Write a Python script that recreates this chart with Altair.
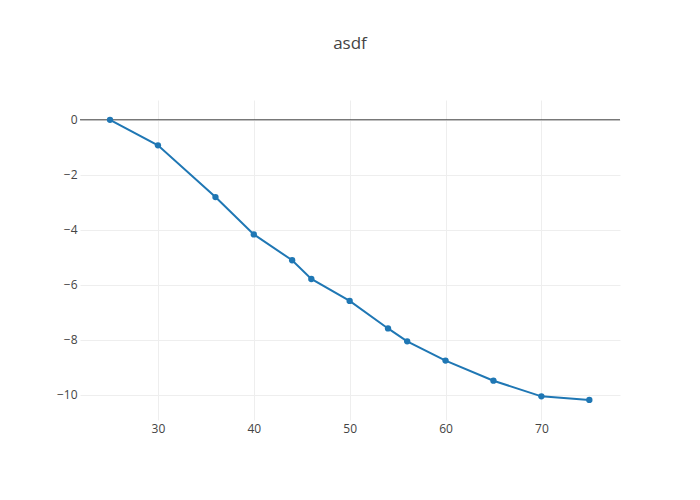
import altair as alt
import pandas as pd

xs = [25, 30, 36, 40, 44, 46, 50, 54, 56, 60, 65, 70, 75]
ys = [0.0, -0.93, -2.81, -4.17, -5.11, -5.79, -6.59, -7.59, -8.06, -8.76, -9.49, -10.06, -10.19]
x_ticks = [30, 40, 50, 60, 70]
y_ticks = [0, -2, -4, -6, -8, -10]

df = pd.DataFrame({"x": xs, "y": ys})

FONT = "Open Sans"
xscale = alt.Scale(domain=[21.87, 78.2], nice=False, zero=False)
yscale = alt.Scale(domain=[-10.92, 0.72], nice=False, zero=False)

xaxis = alt.Axis(values=x_ticks, title=None, domain=False, ticks=False, grid=True,
                 gridColor="#eeeeee", gridWidth=1, labelFont=FONT, labelFontSize=12,
                 labelColor="#444444", labelPadding=3)
yaxis = alt.Axis(values=y_ticks, title=None, domain=False, ticks=False, grid=True,
                 gridColor="#eeeeee", gridWidth=1, labelFont=FONT, labelFontSize=12,
                 labelColor="#444444", labelPadding=3)

base = alt.Chart(df)
line = base.mark_line(color="#1f77b4", strokeWidth=2).encode(
    x=alt.X("x:Q", scale=xscale, axis=xaxis),
    y=alt.Y("y:Q", scale=yscale, axis=yaxis),
)
pts = base.mark_point(filled=True, color="#1f77b4", size=40, opacity=1).encode(
    x=alt.X("x:Q", scale=xscale),
    y=alt.Y("y:Q", scale=yscale),
)
zero = alt.Chart(pd.DataFrame({"z": [0]})).mark_rule(color="#444444", strokeWidth=1).encode(
    y=alt.Y("z:Q", scale=yscale)
)

chart = alt.layer(zero, line, pts).properties(
    width=540, height=320,
    background="white",
    title=alt.TitleParams(text="asdf", font=FONT, fontSize=17, color="#444444",
                          fontWeight="normal", anchor="middle", offset=47),
    autosize=alt.AutoSizeParams(type="none"),
    padding={"left": 72, "top": 92, "right": 72, "bottom": 72},
).configure_view(stroke=None, strokeWidth=0)

chart.save("out.html", embed_options={"renderer": "svg", "actions": False})
